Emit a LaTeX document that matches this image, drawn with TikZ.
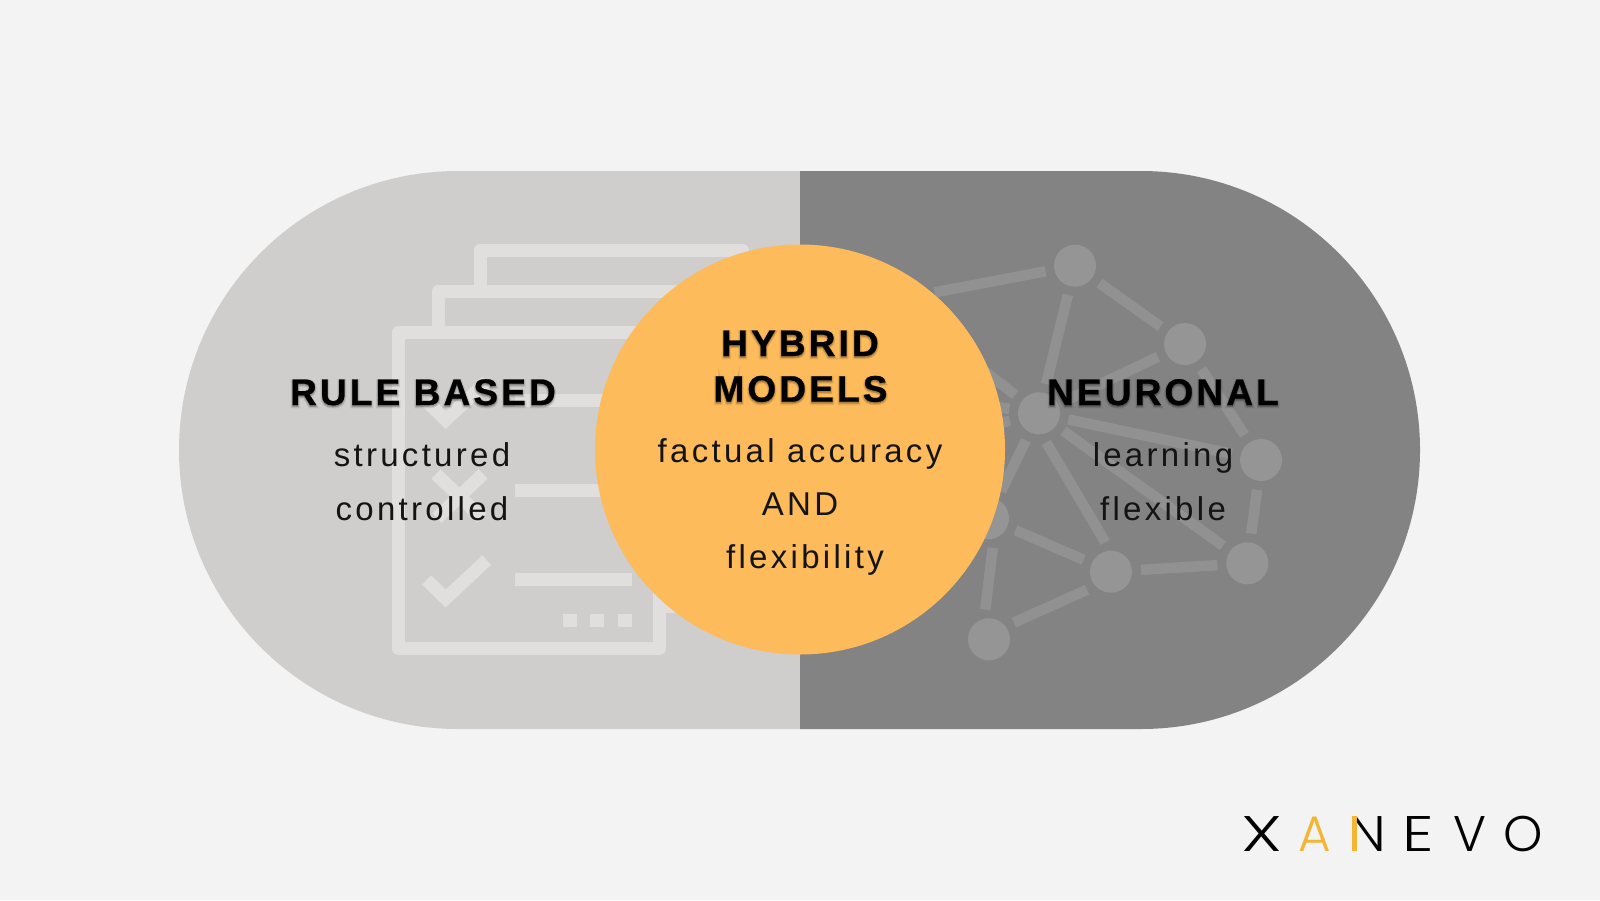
\documentclass[tikz,border=0pt]{standalone}
\usepackage{fontspec}
\setmainfont{Liberation Sans}
\newfontfamily\headfont[LetterSpace=8.5,BoldFeatures={FakeBold=0.6}]{Liberation Sans}
\newfontfamily\haloafont[LetterSpace=8.5,BoldFeatures={FakeBold=5}]{Liberation Sans}
\newfontfamily\halobfont[LetterSpace=8.5,BoldFeatures={FakeBold=10}]{Liberation Sans}
\newfontfamily\bodyfont[LetterSpace=10]{Liberation Sans}
\newfontfamily\logofont{Poppins Light}
\definecolor{bgc}{HTML}{F3F3F3}
\definecolor{lightc}{HTML}{CFCECC}
\definecolor{darkc}{HTML}{838383}
\definecolor{orangec}{HTML}{FDBB5B}
\definecolor{docc}{HTML}{E0DFDE}
\definecolor{netnode}{HTML}{959595}
\definecolor{netlink}{HTML}{919191}
\definecolor{logoy}{HTML}{F2B632}
\tikzset{
  docline/.style={draw=docc,line width=13pt,line join=round},
  docbar/.style={draw=docc,line width=13pt},
  dotsq/.style={fill=docc,draw=none},
  netdot/.style={circle,fill=netnode,draw=none,minimum size=42pt,inner sep=0pt,outer sep=9pt},
  netedge/.style={draw=netlink,line width=10.5pt},
  headtext/.style={anchor=base,inner sep=0pt,text=black,font=\headfont\bfseries\fontsize{37}{37}\selectfont},
  haloa/.style={anchor=base,inner sep=0pt,text=black,text opacity=.12,font=\haloafont\bfseries\fontsize{37}{37}\selectfont},
  halob/.style={anchor=base,inner sep=0pt,text=black,text opacity=.08,font=\halobfont\bfseries\fontsize{37}{37}\selectfont},
  bodytext/.style={anchor=base,inner sep=0pt,text=black!92,font=\bodyfont\fontsize{33}{33}\selectfont},
}
\newcommand{\lcell}[3]{\makebox[#1][l]{\hspace*{#2}#3}}
\newcommand{\softhead}[4]{%
  \node[halob] at (#2,#3+1.5) {#4};
  \node[haloa] at (#2,#3+1.5) {#4};
  \node[headtext] (#1) at (#2,#3) {#4};
}
\begin{document}
\begin{tikzpicture}[x=1pt,y=-1pt]
\useasboundingbox (0,0) rectangle (1600,900);
\fill[bgc] (0,0) rectangle (1600,900);
% pill
\fill[lightc] (800,171) -- (458,171) arc[start angle=90,end angle=270,radius=279pt] -- (800,729) -- cycle;
\fill[darkc] (800,171) -- (1141,171) arc[start angle=90,end angle=-90,radius=279pt] -- (800,729) -- cycle;
% document icon
\draw[docline] (480,291) -- (480,250) -- (742,250) -- (742,565) -- (701,565);
\draw[docline] (438.5,326) -- (438.5,291) -- (701,291) -- (701,606.5) -- (666,606.5);
\draw[docline] (398.5,332.5) rectangle (659.5,648);
\draw[docbar] (515,400) -- (632,400);
\draw[docbar] (515,490) -- (632,490);
\draw[docbar] (515,579) -- (632,579);
\draw[docbar,line join=miter] (426.7,401.5) -- (445.7,420) -- (486.7,381.5);
\draw[docbar] (436,474) -- (482,518);
\draw[docbar] (483,474) -- (437,518);
\draw[docbar,line join=miter] (426.7,580) -- (445.7,598.5) -- (486.7,560);
\fill[dotsq] (562.7,614) rectangle (576.7,627);
\fill[dotsq] (590,614) rectangle (604,627);
\fill[dotsq] (617.5,614) rectangle (632,627);
% network icon
\node[netdot] (na) at (1075,265.7) {};
\node[netdot] (nb) at (1185,344) {};
\node[netdot] (nc) at (1261,460) {};
\node[netdot] (nd) at (1247.3,563.3) {};
\node[netdot] (ne) at (1111,571.7) {};
\node[netdot] (nf) at (989,639.3) {};
\node[netdot] (ng) at (1039,413.3) {};
\node[netdot] (nh) at (988,518.3) {};
\node[netdot] (np) at (905,298) {};
\node[netdot] (nq) at (948,343) {};
\node[netdot] (nr) at (950,400) {};
\node[netdot] (ns) at (950,436) {};
\foreach \u/\v in {na/np,na/nb,na/ng,nb/ng,nb/nc,ng/nc,ng/nd,ng/nh,nc/nd,ne/nd,nh/ne,ng/nq,ng/nr,ng/ns}{
  \draw[netedge] (\u) -- (\v);
}
\draw[netedge] (ng.-76) -- (ne.101);
\draw[netedge] (nh.-81) -- (nf.97);
\draw[netedge] (ne.217) -- (nf.34);
% centre circle
\node[circle,fill=orangec,draw=none,minimum size=410pt,inner sep=0pt] (hub) at (800,449.5) {};
% texts
\softhead{h1}{423}{405}{RULE BASED}
\node[bodytext] (t1) at (422,466.7) {structured};
\node[bodytext] (t2) at (422,520) {controlled};
\softhead{h2}{800}{356}{HYBRID}
\softhead{h3}{800.5}{401.7}{MODELS}
\node[bodytext] (t3) at (800,462) {factual accuracy};
\node[bodytext] (t4) at (800,515) {AND};
\node[bodytext] (t5) at (805,568) {flexibility};
\softhead{h4}{1163}{405}{NEURONAL}
\node[bodytext] (t6) at (1163,466.7) {learning};
\node[bodytext] (t7) at (1163,520) {flexible};
% logo
\node[anchor=base west,inner sep=0pt,font=\logofont\fontsize{50}{50}\selectfont] (logo) at (1241.7,851)
  {\lcell{56.6pt}{0pt}{\scalebox{1.4}[1]{X}}\lcell{53.4pt}{0pt}{\textcolor{logoy}{A}}\lcell{54.3pt}{-3.5pt}{\scalebox{1.1}[1]{N}}\lcell{47pt}{-4pt}{\scalebox{1.25}[1]{E}}\lcell{52pt}{0pt}{V}\lcell{40pt}{-2pt}{O}};
\fill[logoy] (1351.7,816) rectangle (1357,851);
\end{tikzpicture}
\end{document}
